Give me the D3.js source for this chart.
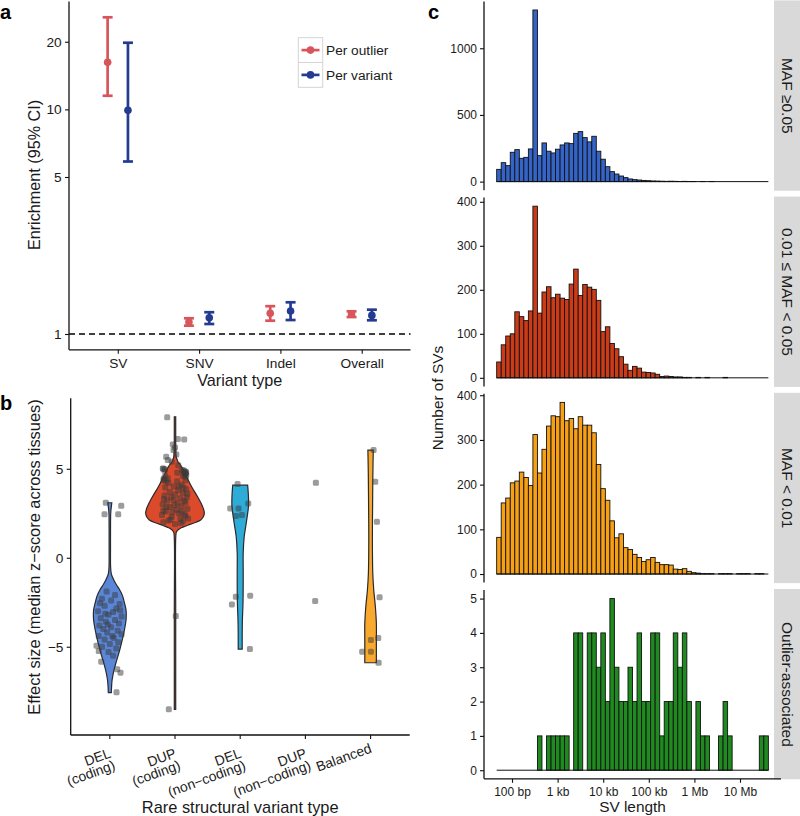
<!DOCTYPE html>
<html><head><meta charset="utf-8">
<script src="https://cdn.jsdelivr.net/npm/d3@7"></script>
<style>body{margin:0;background:#fff}svg{display:block}text{font-family:'Liberation Sans',Arial,Helvetica,sans-serif}</style>
</head><body>
<script>
// ---------------- Panel a data ----------------
const variantTypes = ["SV","SNV","Indel","Overall"];
const outlierEst = [16.2, 1.13, 1.236, 1.228];
const outlierLo  = [11.5, 1.089, 1.146, 1.19];
const outlierHi  = [25.7, 1.175, 1.33, 1.262];
const variantEst = [9.9, 1.18, 1.266, 1.21];
const variantLo  = [5.86, 1.108, 1.154, 1.151];
const variantHi  = [19.8, 1.25, 1.384, 1.283];
const enrichTicks = [1, 5, 10, 20];
const legendLabels = ["Per outlier", "Per variant"];

// ---------------- Panel b data ----------------
const svTypes = ["DEL\n(coding)","DUP\n(coding)","DEL\n(non\u2212coding)","DUP\n(non\u2212coding)","Balanced"];
const effectTicks = [-5, 0, 5];
// violin profiles: [value, relative density]
const violinDelCoding = [[3.09,.068],[2.9,.054],[2.6,.034],[2.3,.027],[1.5,.024],[0.5,.024],[-0.5,.027],[-0.9,.051],[-1.25,.136],[-1.5,.22],[-1.81,.339],[-2.1,.424],[-2.38,.475],[-2.94,.553],[-3.3,.559],[-3.5,.553],[-4.06,.498],[-4.62,.424],[-5.18,.339],[-5.75,.237],[-6.31,.142],[-6.87,.078],[-7.3,.058],[-7.58,.051]];
const violinDupCoding = [[7.92,.024],[7.0,.024],[6.0,.027],[5.67,.041],[5.5,.075],[5.39,.102],[5.11,.227],[4.55,.397],[3.99,.566],[3.43,.769],[2.87,.942],[2.53,1.0],[2.3,.966],[2.12,.875],[1.95,.644],[1.84,.451],[1.72,.271],[1.65,.169],[1.46,.051],[1.2,.027],[-3,.024],[-8.52,.024]];
const violinDelNonCoding = [[4.08,.254],[3.43,.281],[2.87,.281],[2.3,.237],[1.74,.186],[1.18,.136],[0.25,.102],[-0.69,.102],[-1.63,.102],[-2.56,.095],[-3.5,.075],[-4.44,.068],[-5.13,.068]];
const violinBalanced = [[6.05,.092],[4.74,.078],[2.87,.068],[0.99,.061],[-0.88,.075],[-1.81,.108],[-2.75,.163],[-3.69,.197],[-4.62,.197],[-5.9,.197]];
const violins = [violinDelCoding, violinDupCoding, violinDelNonCoding, null, violinBalanced];
const violinColors = ["#5a86d8","#db4a2b","#2fabd8",null,"#f9aa2e"];
// jittered points: [jitter (category units), value]
const ptsDelCoding = [[-0.061,3.09],[0.175,2.92],[-0.081,2.44],[0.129,2.44],[-0.204,-4.94],[-0.169,-5.24],[-0.132,-5.84],[0.113,-6.27],[0.164,-6.46],[0.103,-7.56],
 [-0.05,-1.9],[0.08,-2.1],[-0.12,-2.3],[0.02,-2.4],[0.15,-2.6],[-0.08,-2.7],[0.1,-2.85],[-0.18,-3.0],[0.05,-3.05],[-0.02,-3.2],[0.18,-3.3],[-0.14,-3.4],[0.08,-3.5],[-0.06,-3.6],[0.14,-3.7],[-0.16,-3.8],[0.02,-3.9],[-0.1,-4.0],[0.12,-4.1],[-0.04,-4.2],[0.18,-4.3],[-0.17,-4.4],[0.06,-4.5],[-0.08,-4.6],[0.13,-4.75],[0.0,-4.85],[-0.12,-5.0],[0.1,-5.1],[-0.02,-5.3],[0.05,-5.5],[-0.07,-3.15],[0.16,-2.95],[-0.15,-2.55],[0.04,-4.4],[-0.03,-3.75]];
const ptsDupCoding = [[-0.12,7.89],[0.043,6.67],[0.141,6.65],[-0.034,6.37],[-0.023,6.05],[-0.135,5.67],[-0.11,5.49],[-0.156,4.98],[0.161,4.83],[0.172,4.65],[-0.176,4.37],[0.012,-3.28],[-0.095,-8.52],
 [-0.187,5.02],[-0.172,4.46],[0.034,4.78],[0.161,4.74],[0.11,4.93],[0.161,4.55],[0.14,4.9],[0.15,4.7],[-0.16,4.9],[0.12,4.6],[0.17,4.8],[-0.15,4.6],[0.05,5.2],[-0.05,5.4],[0.02,5.8],[0.0,6.2],[-0.14,4.3],[0.16,4.35],[-0.18,5.0],[0.16,4.75],[0.13,4.85],
 [-0.18,2.0],[-0.1,2.1],[0.0,1.9],[0.12,2.05],[0.2,2.2],[-0.2,2.4],[-0.05,2.3],[0.06,2.5],[0.15,2.45],[-0.14,2.6],[0.02,2.7],[0.19,2.75],[-0.08,2.85],[0.1,2.9],[-0.19,3.0],[0.04,3.05],[0.16,3.1],[-0.12,3.2],[-0.02,3.25],[0.08,3.35],[0.18,3.4],[-0.16,3.5],[0.0,3.55],[0.12,3.65],[-0.08,3.7],[0.05,3.8],[0.17,3.85],[-0.15,3.95],[-0.02,4.0],[0.1,4.1],[-0.1,4.2],[0.03,4.3],[-0.04,2.55],[0.08,2.2],[-0.13,2.85],[0.14,3.2],[-0.06,3.4],[0.1,2.6],[-0.17,3.3],[0.19,3.6],[0.06,4.0],[-0.11,4.45],[-0.01,2.95],[0.13,3.95],[-0.18,2.65],[0.09,1.95],[-0.07,2.15],[0.16,2.35]];
const ptsDelNonCoding = [[-0.04,4.14],[0.123,3.05],[-0.153,2.77],[-0.025,2.77],[-0.066,2.34],[0.026,2.4],[-0.066,-2.19],[0.153,-2.13],[-0.127,-2.62],[0.149,-5.13]];
const ptsDupNonCoding = [[0.161,4.21],[0.150,-2.43]];
const ptsBalanced = [[0.046,6.05],[0.071,4.27],[0.097,2.02],[0.138,-2.22],[0.117,-4.51],[0.005,-4.62],[0.005,-5.28],[-0.129,-5.28],[0.123,-5.9]];
const points = [ptsDelCoding, ptsDupCoding, ptsDelNonCoding, ptsDupNonCoding, ptsBalanced];

// ---------------- Panel c data ----------------
const mafGroups = ["MAF \u22650.05", "0.01 \u2264 MAF < 0.05", "MAF < 0.01", "Outlier-associated"];
const binStartLog10 = 1.664, binWidthLog10 = 0.0993;
const countsCommon = [92,142,120,220,240,175,182,245,1287,195, 290,228,215,243,275,290,285,362,375,330, 298,340,228,168,112,75,57,42,30,20, 15,12,9,7,5,4,3,2,3,2, 1,2,1,1,0,1,0,1,0,0, 0,0,0,0,0,0,0,0,0,0];
const countsLowFreq = [36,75,95,100,150,139,130,152,390,147, 195,207,182,190,181,178,213,247,187,212, 206,201,176,105,116,78,66,48,31,17, 26,22,13,12,11,8,3,4,3,2, 2,1,1,0,1,0,1,0,0,0, 1,0,0,0,0,0,0,0,0,0];
const countsRare = [82,159,170,204,208,228,216,198,312,226, 279,331,354,352,384,343,348,325,352,333, 333,316,245,191,165,119,81,90,59,55, 44,37,28,32,37,26,21,21,20,11, 10,12,6,3,2,1,1,1,0,1, 1,1,0,1,1,1,0,1,1,0];
const countsOutlier = [0,0,0,0,0,0,0,0,0,1, 0,1,1,1,1,1,0,4,4,0, 4,4,3,4,2,5,3,2,2,3, 2,4,2,2,4,4,1,2,2,4, 3,4,2,0,2,1,1,0,0,1, 2,1,0,0,0,0,0,0,1,1];
const histCounts = [countsCommon, countsLowFreq, countsRare, countsOutlier];
const histColors = ["#3564c8","#cc3b17","#f7a015","#1f8a1f"];
const histTicks = [[0,500,1000],[0,100,200,300,400],[0,100,200,300,400],[0,1,2,3,4,5]];
const lengthTicks = [1e2,1e3,1e4,1e5,1e6,1e7];
const lengthLabels = ["100 bp","1 kb","10 kb","100 kb","1 Mb","10 Mb"];

// ---------------- drawing ----------------
const svg = d3.select("body").append("svg").attr("width",800).attr("height",816);
const INK = "#1a1a1a";

function styleAxis(g, fs){
  g.select(".domain").remove();
  g.selectAll(".tick line").attr("stroke","#111").attr("stroke-width",1.1);
  g.selectAll(".tick text").attr("fill",INK).style("font-size",fs+"px");
}

// ===== Panel a =====
const aLeft=69, aRight=410.5, aTop=1.5, aBot=349.8;
const xA = d3.scalePoint().domain(variantTypes).range([aLeft,aRight]).padding(0.6);
const yA = d3.scaleLog().domain([1,25.7]).range([334,17.3]);
const aG = svg.append("g");
aG.append("line").attr("x1",aLeft).attr("x2",aRight).attr("y1",yA(1)).attr("y2",yA(1))
  .attr("stroke","#000").attr("stroke-width",1.7).attr("stroke-dasharray","6,4");
const seriesA = [
  {est:outlierEst, lo:outlierLo, hi:outlierHi, color:"#d8555b", off:-1},
  {est:variantEst, lo:variantLo, hi:variantHi, color:"#243b92", off:1}
];
const dodge = 0.125*xA.step();
seriesA.forEach(s=>{
  const g = aG.append("g");
  variantTypes.forEach((c,i)=>{
    const cx = xA(c)+s.off*dodge;
    g.append("line").attr("x1",cx).attr("x2",cx).attr("y1",yA(s.lo[i])).attr("y2",yA(s.hi[i])).attr("stroke",s.color).attr("stroke-width",2.7);
    [s.lo[i], s.hi[i]].forEach(v=>g.append("line").attr("x1",cx-5).attr("x2",cx+5).attr("y1",yA(v)).attr("y2",yA(v)).attr("stroke",s.color).attr("stroke-width",2.7));
    g.append("circle").attr("cx",cx).attr("cy",yA(s.est[i])).attr("r",3.8).attr("fill",s.color);
  });
});
const axAy = aG.append("g").attr("transform",`translate(${aLeft},0)`)
  .call(d3.axisLeft(yA).tickValues(enrichTicks).tickFormat(d3.format("d")).tickSize(4).tickPadding(3.3));
styleAxis(axAy, 13.7);
const axAx = aG.append("g").attr("transform",`translate(0,${aBot})`)
  .call(d3.axisBottom(xA).tickSize(4).tickPadding(4.5));
styleAxis(axAx, 13.7);
aG.append("line").attr("x1",aLeft).attr("x2",aLeft).attr("y1",aTop).attr("y2",aBot).attr("stroke","#111").attr("stroke-width",1.3);
aG.append("line").attr("x1",aLeft).attr("x2",aRight).attr("y1",aBot).attr("y2",aBot).attr("stroke","#111").attr("stroke-width",1.3);
aG.append("text").attr("x",aLeft+(aRight-aLeft)/2).attr("y",386).attr("text-anchor","middle").attr("fill",INK).style("font-size","16.2px").text("Variant type");
aG.append("text").attr("transform","translate(40,175) rotate(-90)").attr("text-anchor","middle").attr("fill",INK).style("font-size","16.2px").text("Enrichment (95% CI)");
// legend
seriesA.forEach((s,i)=>{
  const ky = 37.7 + i*24.8;
  aG.append("rect").attr("x",298.3).attr("y",ky).attr("width",24.4).attr("height",24.8).attr("fill","#fff").attr("stroke","#d4d4d4").attr("stroke-width",1);
  aG.append("line").attr("x1",301.5).attr("x2",319.5).attr("y1",ky+12.4).attr("y2",ky+12.4).attr("stroke",s.color).attr("stroke-width",2.7);
  aG.append("circle").attr("cx",310.5).attr("cy",ky+12.4).attr("r",3.8).attr("fill",s.color);
  aG.append("text").attr("x",326).attr("y",ky+12.4).attr("dy","0.35em").attr("fill",INK).style("font-size","13.7px").text(legendLabels[i]);
});

// ===== Panel b =====
const bLeft=70.7, bRight=409.7, bTop=398.3, bBot=735;
const xB = d3.scalePoint().domain(svTypes).range([bLeft,bRight]).padding(0.6);
const yB = d3.scaleLinear().domain([-9.96,8.96]).range([bBot,bTop]);
const wB = d3.scaleLinear().domain([0,1]).range([0,0.45*xB.step()]);
const bG = svg.append("g");
svTypes.forEach((c,i)=>{
  const prof = violins[i];
  if(!prof) return;
  const cx = xB(c);
  const area = d3.area().curve(d3.curveCatmullRom)
    .y(d=>yB(d[0])).x0(d=>cx-wB(d[1])).x1(d=>cx+wB(d[1]));
  bG.append("path").attr("d",area(prof)).attr("fill",violinColors[i]).attr("stroke","#2a2a2a").attr("stroke-width",1.2);
});
svTypes.forEach((c,i)=>{
  const cx = xB(c);
  bG.append("g").selectAll("rect").data(points[i]).join("rect")
    .attr("x",d=>cx+d[0]*xB.step()-3).attr("y",d=>yB(d[1])-3)
    .attr("width",6).attr("height",6).attr("rx",1.6)
    .attr("fill","#3a3a3a").attr("fill-opacity",0.5);
});
const axBy = bG.append("g").attr("transform",`translate(${bLeft},0)`)
  .call(d3.axisLeft(yB).tickValues(effectTicks).tickFormat(d3.format("d")).tickSize(4).tickPadding(3.3));
styleAxis(axBy, 13.7);
bG.append("line").attr("x1",bLeft).attr("x2",bLeft).attr("y1",bTop).attr("y2",bBot).attr("stroke","#111").attr("stroke-width",1.3);
bG.append("line").attr("x1",bLeft).attr("x2",bRight).attr("y1",bBot).attr("y2",bBot).attr("stroke","#111").attr("stroke-width",1.3);
svTypes.forEach(c=>{
  const cx = xB(c);
  bG.append("line").attr("x1",cx).attr("x2",cx).attr("y1",bBot).attr("y2",bBot+4).attr("stroke","#111").attr("stroke-width",1.1);
  const lines = c.split("\n");
  const base = lines.length>1 ? 757 : 752;
  const t = bG.append("text").attr("transform",`translate(${cx+2},${base}) rotate(-20)`).attr("text-anchor","end").attr("fill",INK).style("font-size","13.9px");
  lines.forEach((l,j)=>t.append("tspan").attr("x",0).attr("y",j*12.8).text(l));
});
bG.append("text").attr("x",bLeft+(bRight-bLeft)/2).attr("y",812.5).attr("text-anchor","middle").attr("fill",INK).style("font-size","16.4px").text("Rare structural variant type");
bG.append("text").attr("transform","translate(40,557) rotate(-90)").attr("text-anchor","middle").attr("fill",INK).style("font-size","16.4px").text("Effect size (median z\u2212score across tissues)");

// ===== Panel c =====
const cLeft=484, cRight=781, cTop0=1.4, cStep=196.2, cH=188.8, stripX=774;
const xC = d3.scaleLog().domain([1e2,1e7]).range([512,740]);
const edgeX = i => xC(Math.pow(10, binStartLog10 + i*binWidthLog10));
const cG = svg.append("g");
histCounts.forEach((counts,k)=>{
  const top = cTop0 + k*cStep, bot = top + cH;
  const mx = d3.max(counts);
  const yC = d3.scaleLinear().domain([-0.05*mx, 1.05*mx]).range([bot, top]);
  const g = cG.append("g");
  g.selectAll("rect").data(counts).join("rect")
    .attr("x",(d,i)=>edgeX(i))
    .attr("width",(d,i)=>edgeX(i+1)-edgeX(i))
    .attr("y",d=>yC(d)).attr("height",d=>yC(0)-yC(d))
    .attr("fill",histColors[k]).attr("stroke","#111").attr("stroke-width",0.9);
  // empty bins are drawn as a flat outline at zero
  g.append("line").attr("x1",edgeX(0)).attr("x2",edgeX(counts.length)).attr("y1",yC(0)).attr("y2",yC(0))
    .attr("stroke","#111").attr("stroke-width",1);
  const ax = g.append("g").attr("transform",`translate(${cLeft},0)`)
    .call(d3.axisLeft(yC).tickValues(histTicks[k]).tickFormat(d3.format("d")).tickSize(4).tickPadding(3));
  styleAxis(ax, 12);
  g.append("line").attr("x1",cLeft).attr("x2",cLeft).attr("y1",top).attr("y2",bot).attr("stroke","#111").attr("stroke-width",1.3);
  // strip
  g.append("rect").attr("x",stripX).attr("y",top-1).attr("width",800-stripX).attr("height",cH+1.5).attr("fill","#d9d9d9");
  g.append("text").attr("transform",`translate(${(stripX+800)/2},${top+cH/2}) rotate(90)`)
    .attr("text-anchor","middle").attr("dy","0.35em").attr("fill",INK).style("font-size","15.5px").text(mafGroups[k]);
  if(k===histCounts.length-1){
    const axx = g.append("g").attr("transform",`translate(0,${bot})`)
      .call(d3.axisBottom(xC).tickValues(lengthTicks).tickFormat((d,i)=>lengthLabels[i]).tickSize(4).tickPadding(4.2));
    styleAxis(axx, 12);
    g.append("line").attr("x1",cLeft).attr("x2",cRight).attr("y1",bot).attr("y2",bot).attr("stroke","#111").attr("stroke-width",1.3);
  }
});
cG.append("text").attr("x",(cLeft+cRight)/2).attr("y",812.3).attr("text-anchor","middle").attr("fill",INK).style("font-size","15.4px").text("SV length");
cG.append("text").attr("transform","translate(443,398) rotate(-90)").attr("text-anchor","middle").attr("fill",INK).style("font-size","15.4px").text("Number of SVs");

// panel letters
[["a",0,18.5],["b",0,410],["c",428,18.5]].forEach(([t,x,y])=>{
  svg.append("text").attr("x",x).attr("y",y).attr("fill","#000").style("font-size","20px").style("font-weight","bold").text(t);
});
</script>
</body></html>
